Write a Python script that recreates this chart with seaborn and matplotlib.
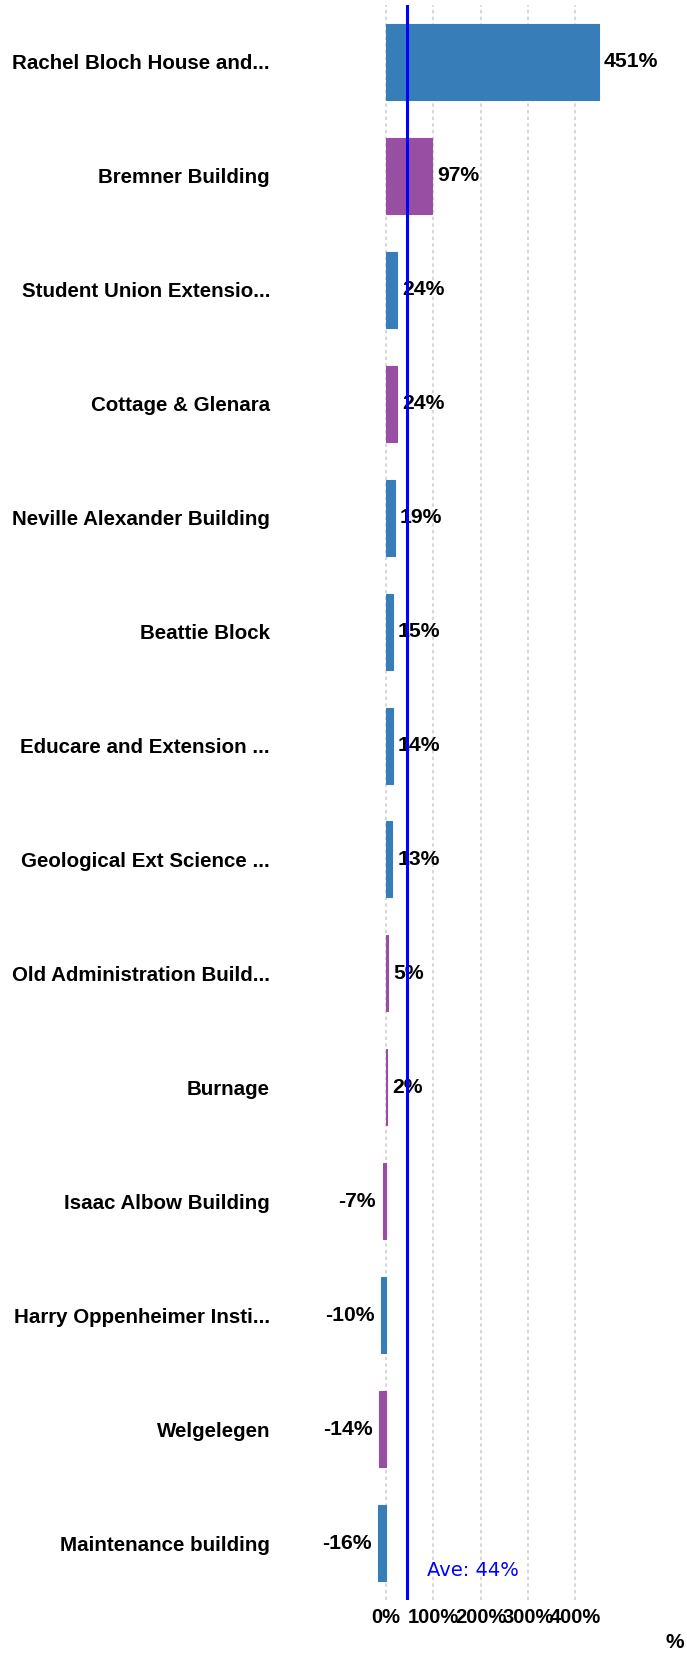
import matplotlib
matplotlib.use("Agg")
import matplotlib.pyplot as plt
import numpy as np
import pandas as pd
import seaborn as sns

buildings = [
    "Rachel Bloch House and...",
    "Bremner Building",
    "Student Union Extensio...",
    "Cottage & Glenara",
    "Neville Alexander Building",
    "Beattie Block",
    "Educare and Extension ...",
    "Geological Ext Science ...",
    "Old Administration Build...",
    "Burnage",
    "Isaac Albow Building",
    "Harry Oppenheimer Insti...",
    "Welgelegen",
    "Maintenance building",
]
change_pct = [451, 97, 24, 24, 19, 15, 14, 13, 5, 2, -7, -10, -14, -16]
group = ["A", "B", "A", "B", "A", "A", "A", "A", "B", "B", "B", "A", "B", "A"]
tick_vals = [0, 100, 200, 300, 400]

colores = {"A": "#377eb8", "B": "#984ea3"}

df = pd.DataFrame({"building": buildings, "pct": change_pct, "group": group})
media = np.mean(change_pct)

sns.set_style("white")
plt.rcParams["font.family"] = ["Liberation Sans", "DejaVu Sans"]
plt.rcParams["text.color"] = "black"
plt.rcParams["xtick.color"] = "black"
plt.rcParams["ytick.color"] = "black"

W, H = 687, 1654
fig = plt.figure(figsize=(W / 100, H / 100), dpi=100)
left_px, right_px, top_px, bot_px = 280, 620, 5, 1600
ax = fig.add_axes([left_px / W, 1 - bot_px / H, (right_px - left_px) / W, (bot_px - top_px) / H])

sns.barplot(data=df, y="building", x="pct", hue="group", palette=colores,
            dodge=False, legend=False, orient="h", width=0.667, saturation=1, ax=ax)
for p in ax.patches:
    p.set_edgecolor(p.get_facecolor())
    p.set_linewidth(0.8)

px_per_unit = 0.4725
ax.set_xlim(-(386 - left_px) / px_per_unit, (right_px - 386) / px_per_unit)
ax.set_ylim(len(buildings) - 0.5, -0.5)

ax.set_xticks(tick_vals)
ax.set_xticklabels([f"{v}%" for v in tick_vals], fontsize=14.5, fontweight="bold")
ax.tick_params(axis="x", length=2, color="#ff8c00", labelcolor="black", pad=4)
ax.tick_params(axis="y", length=0, pad=7.2, labelcolor="black")
for lbl in ax.get_yticklabels():
    lbl.set_fontsize(14.8)
    lbl.set_fontweight("bold")

ax.xaxis.grid(True, linestyle=(0, (2, 2)), color="#d0d0d0", linewidth=1.2)
ax.set_axisbelow(True)
for s in ax.spines.values():
    s.set_visible(False)
ax.set_xlabel("")
ax.set_ylabel("")

for i, v in enumerate(change_pct):
    off = 3.6 if v >= 0 else -5
    ax.annotate(f"{v}%", xy=(v, i), xytext=(off, 0), textcoords="offset points",
                ha="left" if v >= 0 else "right", va="center",
                fontsize=15.2, fontweight="bold", color="black")

ax.axvline(media, color="#0000ff", linewidth=2.2, zorder=5)
ax.annotate(f"Ave: {media:.0f}%", xy=(media, 0), xycoords=("data", "axes fraction"),
            xytext=(14.5, 21), textcoords="offset points", ha="left", va="center",
            fontsize=14, color="#0000ff", family="DejaVu Sans")

fig.text(675 / W, 1 - 1643 / H, "%", ha="center", va="center", fontsize=15, fontweight="bold")

fig.savefig("out.png", dpi=100)
